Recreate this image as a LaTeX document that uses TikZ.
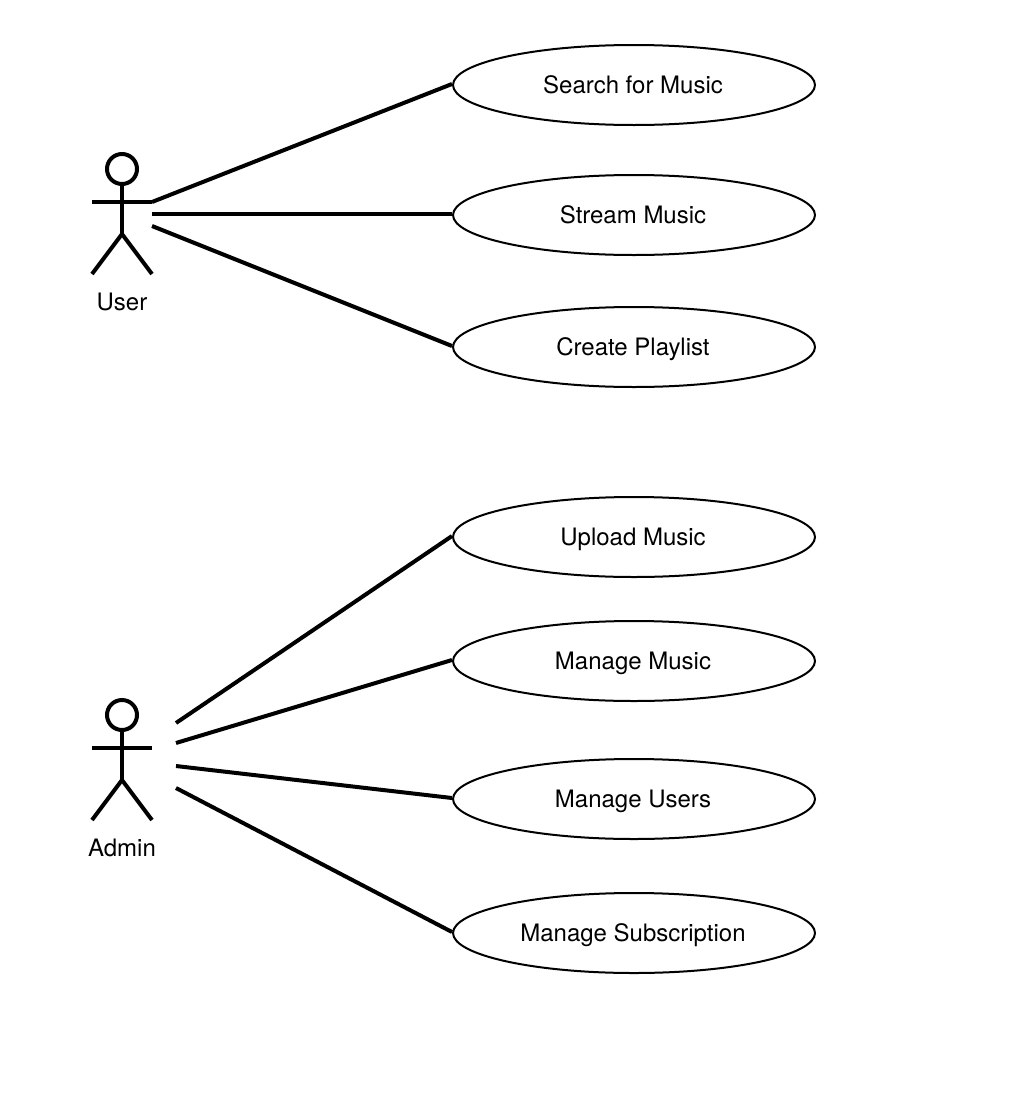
\documentclass[tikz,border=0pt]{standalone}
\usepackage{fontspec}
\setmainfont{TeX Gyre Heros}
\usetikzlibrary{shapes.geometric}
\tikzset{
  usecase/.style={ellipse,draw=black,line width=2pt,fill=white,minimum width=362pt,minimum height=80pt,inner sep=0pt,font=\fontsize{24}{28}\selectfont,text height=20pt,text depth=4pt,execute at end node={\kern2pt}},
  actorhead/.style={circle,draw=black,line width=4pt,minimum size=30pt,inner sep=0pt},
  actorline/.style={draw=black,line width=4pt},
  actorlabel/.style={inner sep=0pt,font=\fontsize{24}{28}\selectfont,text height=20pt,text depth=4pt},
  link/.style={draw=black,line width=4pt}
}
\begin{document}
\begin{tikzpicture}[x=1pt,y=-1pt]
\useasboundingbox (0,0) rectangle (1036,1098);
\coordinate (u1) at (152,202);
\coordinate (u2) at (152,214);
\coordinate (u3) at (152,226);
\coordinate (a1) at (176,723);
\coordinate (a2) at (176,743);
\coordinate (a3) at (176,766);
\coordinate (a4) at (176,788);
\node[usecase] (search) at (634,85) {Search for Music};
\node[usecase] (stream) at (634,215) {Stream Music};
\node[usecase] (playlist) at (634,347) {Create Playlist};
\node[usecase] (upload) at (634,537) {Upload Music};
\node[usecase] (manmusic) at (634,661) {Manage Music};
\node[usecase] (manusers) at (634,799) {Manage Users};
\node[usecase] (mansub) at (634,933) {Manage Subscription};
\draw[link] (u1) -- ([yshift=1pt]search.west);
\draw[link] (u2) -- (stream.west |- u2);
\draw[link] (u3) -- ([yshift=1pt]playlist.west);
\draw[link] (a1) -- ([yshift=1pt]upload.west);
\draw[link] (a2) -- ([yshift=1pt]manmusic.west);
\draw[link] (a3) -- ([yshift=1pt]manusers.west);
\draw[link] (a4) -- ([yshift=1pt]mansub.west);
% User actor
\node[actorhead] (userhead) at (122,169) {};
\coordinate (userhip) at (122,234);
\coordinate (userarml) at (92,202);
\coordinate (userlegl) at (92,274);
\coordinate (userlegr) at (152,274);
\draw[actorline] (userhead.south) -- (userhip);
\draw[actorline] (userarml) -- (u1);
\draw[actorline,line join=miter] (userlegl) -- (userhip) -- (userlegr);
\node[actorlabel] (userlabel) at (122,302) {User};
% Admin actor
\node[actorhead] (adminhead) at (122,715) {};
\coordinate (adminhip) at (122,780);
\coordinate (adminarml) at (92,748);
\coordinate (adminarmr) at (152,748);
\coordinate (adminlegl) at (92,820);
\coordinate (adminlegr) at (152,820);
\draw[actorline] (adminhead.south) -- (adminhip);
\draw[actorline] (adminarml) -- (adminarmr);
\draw[actorline,line join=miter] (adminlegl) -- (adminhip) -- (adminlegr);
\node[actorlabel] (adminlabel) at (122,848) {Admin};
\end{tikzpicture}
\end{document}
